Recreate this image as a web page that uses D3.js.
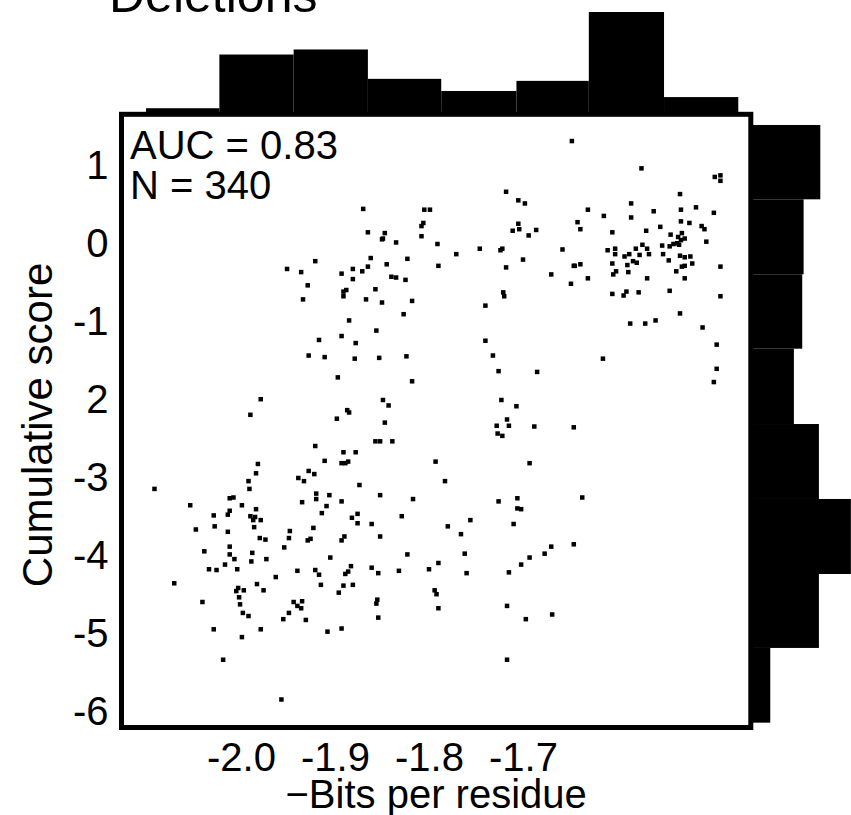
<!DOCTYPE html>
<html>
<head>
<meta charset="utf-8">
<script src="https://cdn.jsdelivr.net/npm/d3@7"></script>
<style>
  html, body { margin: 0; padding: 0; background: #fff; overflow: hidden; }
  svg { display: block; }
  text { font-family: "Liberation Sans", Arial, Helvetica, sans-serif; fill: #000; }
</style>
</head>
<body>
<svg id="chart" width="851" height="815"></svg>
<script>
// Scatter of cumulative score against (negative) bits per residue, with marginal histograms.

const points = [
  [-1.870,0.45],[-1.805,0.44],[-1.799,0.44],[-1.806,0.27],[-1.808,0.23],[-1.808,0.10],[-1.791,0.00],[-1.865,0.15],
  [-1.847,0.14],[-1.849,0.07],[-1.850,0.06],[-1.835,0.02],[-1.790,-0.28],[-1.862,-0.18],[-1.845,-0.26],[-1.823,-0.19],
  [-1.865,-0.29],[-1.871,-0.35],[-1.881,-0.32],[-1.881,-0.45],[-1.893,-0.38],[-1.921,-0.22],[-1.951,-0.32],[-1.936,-0.36],
  [-1.929,-0.53],[-1.934,-0.71],[-1.840,-0.42],[-1.835,-0.43],[-1.825,-0.46],[-1.891,-0.61],[-1.888,-0.59],[-1.891,-0.67],
  [-1.857,-0.58],[-1.867,-0.71],[-1.850,-0.75],[-1.818,-0.73],[-1.827,-0.90],[-1.885,-0.98],[-1.856,-1.11],[-1.893,-1.18],
  [-1.917,-1.23],[-1.878,-1.27],[-1.928,-1.43],[-1.911,-1.45],[-1.879,-1.47],[-1.853,-1.46],[-1.824,-1.44],[-1.897,-1.71],
  [-1.818,-1.76],[-1.979,-1.99],[-1.990,-2.19],[-1.887,-2.13],[-1.885,-2.16],[-1.849,-2.00],[-1.843,-2.07],[-1.898,-2.24],
  [-1.648,1.32],[-1.574,0.97],[-1.496,0.86],[-1.490,0.88],[-1.490,0.81],[-1.718,0.67],[-1.705,0.56],[-1.698,0.52],
  [-1.533,0.64],[-1.585,0.52],[-1.631,0.44],[-1.614,0.36],[-1.585,0.34],[-1.561,0.42],[-1.532,0.44],[-1.516,0.47],
  [-1.497,0.40],[-1.705,0.26],[-1.704,0.19],[-1.711,0.17],[-1.694,0.11],[-1.686,0.18],[-1.642,0.28],[-1.639,0.19],
  [-1.605,0.15],[-1.569,0.17],[-1.554,0.22],[-1.532,0.29],[-1.523,0.27],[-1.510,0.23],[-1.507,0.19],[-1.505,0.03],
  [-1.543,0.12],[-1.535,0.09],[-1.531,0.14],[-1.528,0.07],[-1.532,0.05],[-1.536,0.01],[-1.540,0.00],[-1.544,-0.03],
  [-1.534,-0.01],[-1.552,-0.02],[-1.573,-0.01],[-1.580,-0.06],[-1.568,-0.06],[-1.566,-0.13],[-1.576,-0.14],[-1.551,-0.13],
  [-1.545,-0.21],[-1.610,-0.08],[-1.602,-0.06],[-1.602,-0.13],[-1.592,-0.16],[-1.587,-0.13],[-1.583,-0.22],[-1.579,-0.24],
  [-1.589,-0.27],[-1.605,-0.25],[-1.601,-0.35],[-1.604,-0.39],[-1.588,-0.36],[-1.533,-0.15],[-1.528,-0.17],[-1.522,-0.16],
  [-1.520,-0.25],[-1.528,-0.28],[-1.531,-0.29],[-1.537,-0.35],[-1.528,-0.44],[-1.490,-0.29],[-1.568,-0.44],[-1.605,-0.64],
  [-1.593,-0.66],[-1.590,-0.61],[-1.577,-0.62],[-1.544,-0.60],[-1.490,-0.67],[-1.533,-0.89],[-1.586,-1.02],[-1.570,-1.02],
  [-1.559,-0.98],[-1.509,-1.07],[-1.494,-1.29],[-1.494,-1.60],[-1.497,-1.77],[-1.615,-1.47],[-1.771,-0.13],[-1.746,-0.06],
  [-1.724,-0.08],[-1.722,-0.06],[-1.718,-0.30],[-1.700,-0.20],[-1.658,-0.07],[-1.646,-0.28],[-1.645,-0.28],[-1.639,-0.26],
  [-1.670,-0.39],[-1.649,-0.51],[-1.631,-0.44],[-1.721,-0.62],[-1.720,-0.67],[-1.740,-0.79],[-1.740,-1.24],[-1.732,-1.43],
  [-1.726,-1.63],[-1.685,-1.64],[-1.723,-2.00],[-1.707,-2.08],[-1.717,-2.25],
  [-1.847,-2.29],[-1.857,-2.53],[-1.852,-2.53],[-1.839,-2.53],[-1.921,-2.59],[-1.891,-2.67],[-1.878,-2.67],[-1.911,-2.78],
  [-1.893,-2.81],[-1.889,-2.81],[-1.886,-2.79],[-1.793,-2.79],[-1.982,-2.82],[-1.984,-2.94],[-1.992,-3.04],[-1.991,-3.14],
  [-1.928,-2.91],[-1.922,-2.95],[-1.939,-3.00],[-1.933,-3.04],[-1.874,-3.09],[-2.092,-3.14],[-1.920,-3.20],[-1.920,-3.27],
  [-1.906,-3.22],[-1.893,-3.30],[-1.852,-3.22],[-1.817,-3.27],[-2.012,-3.26],[-2.008,-3.25],[-2.054,-3.35],[-1.999,-3.35],
  [-1.935,-3.31],[-1.909,-3.36],[-1.914,-3.45],[-2.012,-3.42],[-2.014,-3.47],[-2.029,-3.48],[-2.028,-3.62],[-1.984,-3.40],
  [-1.990,-3.49],[-1.985,-3.50],[-1.987,-3.54],[-1.979,-3.54],[-1.986,-3.63],[-1.882,-3.51],[-1.876,-3.46],[-1.876,-3.58],
  [-1.861,-3.59],[-1.829,-3.49],[-2.048,-3.66],[-2.014,-3.69],[-1.948,-3.68],[-1.949,-3.77],[-1.954,-3.89],[-1.923,-3.64],
  [-1.926,-3.78],[-1.929,-3.80],[-1.890,-3.75],[-1.893,-3.80],[-1.852,-3.75],[-1.980,-3.77],[-1.974,-3.79],[-2.039,-3.94],
  [-2.012,-3.88],[-2.012,-3.98],[-2.007,-4.04],[-1.988,-3.96],[-1.989,-4.07],[-1.973,-4.04],[-1.905,-4.02],[-1.823,-3.98],
  [-2.034,-4.17],[-2.026,-4.18],[-2.017,-4.11],[-2.004,-4.17],[-1.963,-4.27],[-1.940,-4.19],[-1.921,-4.18],[-1.917,-4.24],
  [-1.883,-4.13],[-1.886,-4.20],[-1.889,-4.23],[-1.861,-4.15],[-1.854,-4.22],[-1.832,-4.19],[-1.800,-4.17],[-1.790,-4.09],
  [-2.071,-4.35],[-1.983,-4.36],[-1.976,-4.44],[-2.003,-4.41],[-2.005,-4.45],[-1.997,-4.44],[-2.002,-4.53],[-2.001,-4.62],
  [-1.915,-4.37],[-1.891,-4.38],[-1.881,-4.37],[-1.896,-4.47],[-2.041,-4.59],[-1.944,-4.59],[-1.935,-4.58],[-1.940,-4.64],
  [-1.936,-4.67],[-1.855,-4.56],[-1.856,-4.61],[-1.998,-4.73],[-1.992,-4.77],[-1.949,-4.73],[-1.955,-4.81],[-1.931,-4.82],
  [-1.854,-4.79],[-1.794,-4.44],[-1.792,-4.49],[-1.790,-4.67],[-2.029,-4.94],[-1.979,-4.94],[-1.908,-4.97],[-1.893,-4.93],
  [-1.999,-5.04],[-2.019,-5.33],[-1.957,-5.84],
  [-1.715,-2.33],[-1.728,-2.33],[-1.688,-2.34],[-1.646,-2.35],[-1.727,-2.43],[-1.722,-2.46],[-1.693,-2.81],[-1.783,-3.04],
  [-1.726,-3.30],[-1.706,-3.26],[-1.706,-3.39],[-1.702,-3.40],[-1.637,-3.25],[-1.756,-3.54],[-1.780,-3.62],[-1.766,-3.72],
  [-1.710,-3.59],[-1.762,-3.97],[-1.760,-4.22],[-1.670,-3.88],[-1.646,-3.85],[-1.677,-3.97],[-1.693,-4.02],[-1.702,-4.11],
  [-1.715,-4.21],[-1.717,-4.64],[-1.669,-4.75],[-1.697,-4.81],[-1.717,-5.33]
];

// Marginal histogram along x (bits per residue)
const xBinEdges  = [-2.101, -2.023, -1.944, -1.865, -1.787, -1.707, -1.630, -1.550, -1.471, -1.458];
const xBinCounts = [6, 59, 64, 35, 23, 33, 101, 17, 2];

// Marginal histogram along y (cumulative score)
const yBinEdges  = [1.526, 0.573, -0.388, -1.342, -2.308, -3.269, -4.231, -5.179, -6.137];
const yBinCounts = [50, 38, 37, 31, 49, 72, 49, 14];

const xTickValues = [-2.0, -1.9, -1.8, -1.7];
const xTickLabels = ["-2.0", "-1.9", "-1.8", "-1.7"];
const yTickValues = [1, 0, -1, -2, -3, -4, -5, -6];
const yTickLabels = ["1", "0", "-1", "2", "-3", "-4", "-5", "-6"];

const titleText = "Deletions";
const statLines = ["AUC = 0.83", "N = 340"];
const xTitle = "\u2212Bits per residue";
const yTitle = "Cumulative score";

// ---- layout ----
const plot = { left: 121.5, top: 114.3, right: 750.8, bottom: 727.5 };
const svg = d3.select("#chart");

const x = d3.scaleLinear().domain([-2.1271, -1.4577]).range([plot.left, plot.right]);
const y = d3.scaleLinear().domain([-6.199, 1.663]).range([plot.bottom, plot.top]);
const topLen = d3.scaleLinear().domain([0, 100]).range([0, 101.3]);
const rightLen = d3.scaleLinear().domain([0, 100]).range([0, 139]);

// top histogram
svg.append("g").selectAll("rect")
  .data(xBinCounts)
  .join("rect")
  .attr("x", (d, i) => x(xBinEdges[i]))
  .attr("width", (d, i) => x(xBinEdges[i + 1]) - x(xBinEdges[i]))
  .attr("y", d => plot.top - topLen(d))
  .attr("height", d => topLen(d))
  .attr("fill", "#000");

// right histogram
svg.append("g").selectAll("rect")
  .data(yBinCounts)
  .join("rect")
  .attr("x", plot.right)
  .attr("width", d => rightLen(d))
  .attr("y", (d, i) => y(yBinEdges[i]))
  .attr("height", (d, i) => y(yBinEdges[i + 1]) - y(yBinEdges[i]))
  .attr("fill", "#000");

// plot frame
svg.append("rect")
  .attr("x", plot.left).attr("y", plot.top)
  .attr("width", plot.right - plot.left).attr("height", plot.bottom - plot.top)
  .attr("fill", "#fff").attr("stroke", "#000").attr("stroke-width", 5);

// points
const sz = 4.5;
svg.append("g").selectAll("rect")
  .data(points)
  .join("rect")
  .attr("x", d => x(d[0]) - sz / 2)
  .attr("y", d => y(d[1]) - sz / 2)
  .attr("width", sz).attr("height", sz)
  .attr("fill", "#000");

// axes (labels only)
const xAxis = d3.axisBottom(x)
  .tickValues(xTickValues)
  .tickFormat((d, i) => xTickLabels[i])
  .tickSize(0).tickPadding(15);
const gx = svg.append("g").attr("transform", `translate(0,${plot.bottom})`).call(xAxis);
gx.select(".domain").remove();
gx.selectAll("text").style("font-size", "40px").style("font-family", null);

const yAxis = d3.axisLeft(y)
  .tickValues(yTickValues)
  .tickFormat((d, i) => yTickLabels[i])
  .tickSize(0).tickPadding(13);
const gy = svg.append("g").attr("transform", `translate(${plot.left},0)`).call(yAxis);
gy.select(".domain").remove();
gy.selectAll("text").style("font-size", "40px").style("font-family", null);

// statistics in the upper left corner of the panel
svg.append("g").selectAll("text")
  .data(statLines)
  .join("text")
  .attr("x", 130)
  .attr("y", (d, i) => 158.5 + i * 40)
  .style("font-size", "40px")
  .text(d => d);

// titles
svg.append("text")
  .attr("x", 109).attr("y", 12)
  .style("font-size", "50px")
  .text(titleText);

svg.append("text")
  .attr("x", (plot.left + plot.right) / 2).attr("y", 808)
  .attr("text-anchor", "middle")
  .style("font-size", "40px")
  .text(xTitle);

svg.append("text")
  .attr("transform", `translate(52,${(plot.top + plot.bottom) / 2 + 4}) rotate(-90)`)
  .attr("text-anchor", "middle")
  .style("font-size", "42px")
  .text(yTitle);
</script>
</body>
</html>
